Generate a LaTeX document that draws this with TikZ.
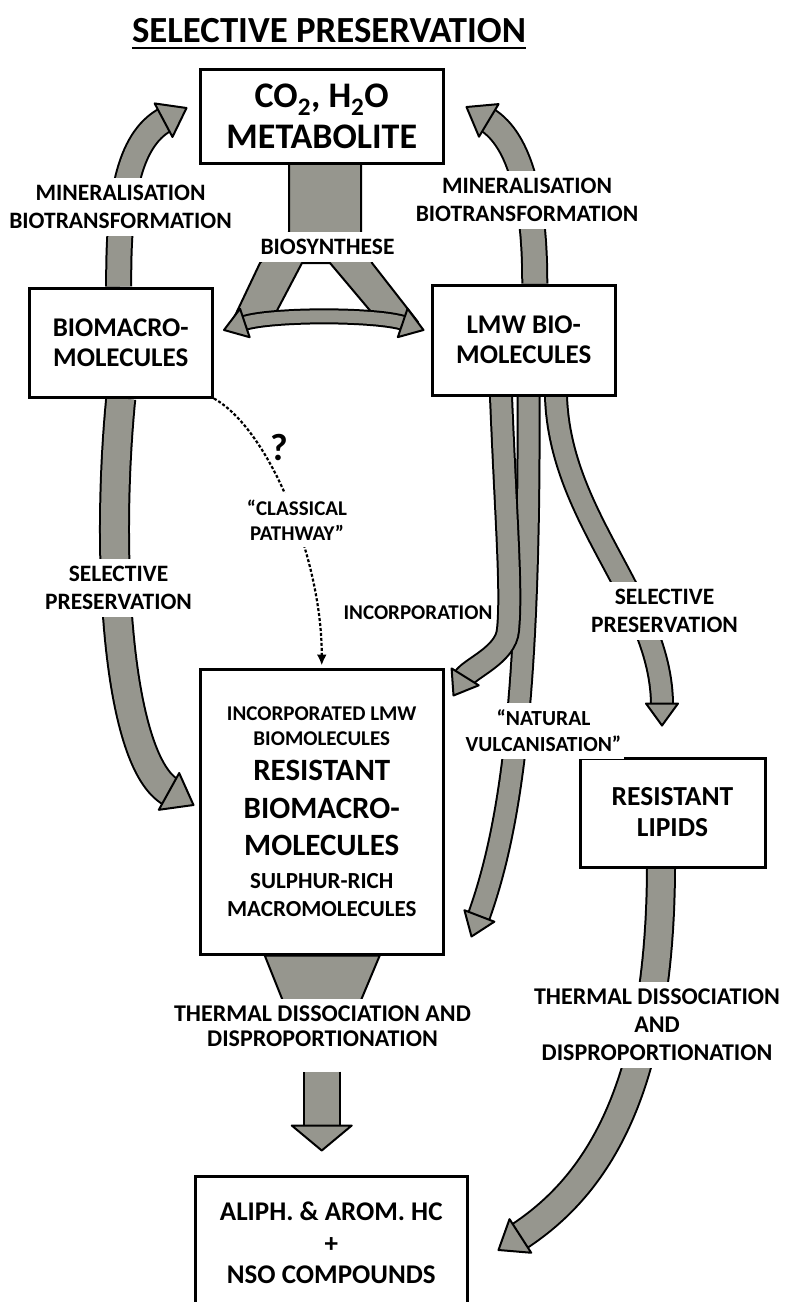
\documentclass[tikz,border=0pt]{standalone}
\usepackage{fontspec}
\setmainfont{Carlito}
\usetikzlibrary{arrows.meta, backgrounds, calc}
\definecolor{arrowgray}{RGB}{150,150,142}
\newcommand{\fsz}[2]{\fontsize{#1}{#2}\selectfont\bfseries}

\tikzset{
  box/.style={draw, line width=3pt, fill=white, align=center, inner sep=1pt},
  lbl/.style={fill=white, align=center, inner xsep=3pt, inner ysep=7pt, font=\fsz{23.5}{28}},
  fat/.style={draw=black, line width=2pt, double=arrowgray, double distance=#1},
  fat/.default=23pt,
  headfill/.style={fill=arrowgray, draw=black, line width=2pt, line join=round},
  pics/fathead/.style args={#1/#2}{code={\filldraw[headfill] (0,0) -- (-#1,#2) -- (-#1,-#2) -- cycle;}},
  dotarrow/.style={line width=2.2pt, dash pattern=on 3pt off 2pt, shorten >=2pt, -{Latex[length=11pt,width=10pt]}}
}

\begin{document}
\begin{tikzpicture}[x=1pt, y=1pt]
  \useasboundingbox (0,0) rectangle (788,-1302);

  % title
  \node[font=\fsz{36.8}{40}, inner sep=0pt] (title) at (329,-31) {SELECTIVE PRESERVATION};
  \draw[line width=2.8pt] ([yshift=-5]title.base west) -- ([yshift=-5]title.base east);

  % boxes
  \node[box, minimum width=243.5, minimum height=94, font=\fsz{36}{41}] (co2) at (321.75,-116)
    {CO\textsubscript{2}, H\textsubscript{2}O\\METABOLITE};
  \node[box, minimum width=183.5, minimum height=109, font=\fsz{27}{30}] (bm) at (120.75,-342.5)
    {BIOMACRO-\\MOLECULES};
  \node[box, minimum width=182.5, minimum height=110, font=\fsz{27}{30}] (lmw) at (523.75,-340)
    {LMW BIO-\\MOLECULES};
  \node[box, minimum width=243.5, minimum height=285, font=\fsz{21}{25}] (res) at (321.75,-811.5)
    {\fsz{21}{25}INCORPORATED LMW\\\fsz{21}{25}BIOMOLECULES\\[10pt]
     \fsz{31}{36}RESISTANT\\[13pt]\fsz{31}{36}BIOMACRO-\\[12pt]\fsz{31}{36}MOLECULES\\[8pt]
     \fsz{23}{28}SULPHUR-RICH\\[3pt]\fsz{23}{28}MACROMOLECULES};
  \node[box, minimum width=185, minimum height=109, font=\fsz{27.5}{31}] (lip) at (672.5,-812.5)
    {RESISTANT\\LIPIDS};
  \node[box, minimum width=272.5, minimum height=134, font=\fsz{27}{31.5}] (ali) at (331.25,-1243)
    {ALIPH. \& AROM. HC\\+\\NSO COMPOUNDS};

  % labels
  \node[lbl] (minL) at (120.5,-207) {MINERALISATION\\BIOTRANSFORMATION};
  \node[lbl] (minR) at (527,-200) {MINERALISATION\\BIOTRANSFORMATION};
  \node[lbl] (bios) at (327.5,-247) {BIOSYNTHESE};
  \node[font=\fsz{38}{40}] (qm) at (279,-448) {?};
  \node[lbl, font=\fsz{21}{25}] (class) at (297,-520) {“CLASSICAL\\PATHWAY”};
  \node[lbl] (selL) at (118.5,-588) {SELECTIVE\\PRESERVATION};
  \node[lbl, font=\fsz{21}{25}, inner xsep=1pt] (inc) at (418,-613) {INCORPORATION};
  \node[lbl] (selR) at (664.5,-611) {SELECTIVE\\PRESERVATION};
  \node[lbl, font=\fsz{21.5}{26}] (nat) at (543.5,-731) {“NATURAL\\VULCANISATION”};
  \node[lbl, font=\fsz{24}{25}] (thM) at (322.5,-1026) {THERMAL DISSOCIATION AND\\DISPROPORTIONATION};
  \node[lbl, font=\fsz{24}{28}] (thR) at (657,-1025) {THERMAL DISSOCIATION\\AND\\DISPROPORTIONATION};

  \begin{pgfonlayer}{background}
    \fill[white] (0,0) rectangle (788,-1302);

    % biosynthese fork and the double arrow
    \filldraw[headfill] (289,-163) -- (289,-232) -- (260,-263) -- (232,-322) -- (272,-320) -- (302,-263)
      -- (330,-263) -- (378,-320) -- (418,-322) -- (372,-263) -- (361,-232) -- (361,-163) -- cycle;
    \draw[fat=12pt, shorten <=20pt, shorten >=20pt] ($(bm.east)+(10,12.5)$) .. controls (270,-314) and (378,-314) .. ($(lmw.west)+(-7.5,10)$);
    \pic[rotate=198.6] at ($(bm.east)+(10,12.5)$) {fathead=22/15};
    \pic[rotate=-18.8] at ($(lmw.west)+(-7.5,10)$) {fathead=22/15};

    % mineralisation
    \draw[fat, shorten >=24pt] ($(bm.north)+(-2,0)$) .. controls (118,-200) and (128,-140) .. ($(co2.west)+(-12,8)$);
    \pic[rotate=28] at ($(co2.west)+(-12,8)$) {fathead=26/19};
    \draw[fat, shorten >=24pt] ($(lmw.north)+(11,0)$) .. controls (535,-200) and (520,-140) .. ($(co2.east)+(21.5,9)$);
    \pic[rotate=149] at ($(co2.east)+(21.5,9)$) {fathead=26/19};

    % selective preservation (left)
    \draw[fat=27pt, shorten >=26pt] (bm.south) .. controls (105,-560) and (118,-762) .. ($(res.west)+(-5,6.5)$);
    \pic[rotate=-29] at ($(res.west)+(-5,6.5)$) {fathead=28/21};

    % classical pathway
    \draw[dotarrow] (bm.south east) .. controls (270,-430) and (322,-560) .. (res.north);

    % lmw branches
    \draw[fat=20pt, shorten >=20pt] ($(lmw.south)+(32.25,0)$) .. controls (560,-520) and (662,-600) .. ($(lip.north)+(-10.5,31)$);
    \pic[rotate=-90] at ($(lip.north)+(-10.5,31)$) {fathead=22/16};
    \draw[fat=20pt, shorten >=20pt] ($(lmw.south)+(4.75,0)$) .. controls (530,-700) and (510,-830) .. ($(res.south east)+(26.5,19)$);
    \pic[rotate=-111] at ($(res.south east)+(26.5,19)$) {fathead=22/16};
    \draw[fat=20pt, shorten >=20pt] ($(lmw.south)+(-22.75,0)$) .. controls (506,-520) and (512,-590) .. (508,-630)
      .. controls (506,-655) and (470,-668) .. ($(res.north east)+(8.5,-28)$);
    \pic[rotate=-122] at ($(res.north east)+(8.5,-28)$) {fathead=22/16};

    % thermal dissociation (middle)
    \filldraw[headfill] ($(res.south)+(-57,0)$) -- ($(res.south)+(58,0)$) -- ($(res.south)+(37,-50)$) -- ($(res.south)+(-37,-50)$) -- cycle;
    \draw[fat=34pt, shorten >=23pt] ($(res.south)+(0,-116)$) -- ($(res.south |- ali.north)+(0,24)$);
    \pic[rotate=-90] at ($(res.south |- ali.north)+(0,24)$) {fathead=25/30};

    % thermal dissociation (right)
    \draw[fat=26pt, shorten >=24pt] ($(lip.south)+(-11.5,0)$) .. controls (660,-1100) and (590,-1190) .. ($(ali.east)+(29.5,-7)$);
    \pic[rotate=-147.2] at ($(ali.east)+(29.5,-7)$) {fathead=26/20};
  \end{pgfonlayer}
\end{tikzpicture}
\end{document}
